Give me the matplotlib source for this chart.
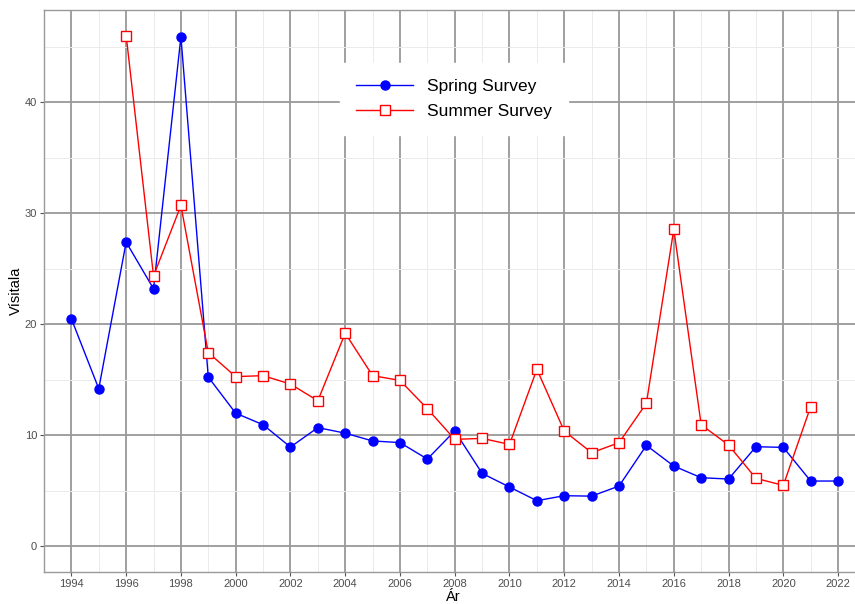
import matplotlib
matplotlib.use('Agg')
import matplotlib.pyplot as plt
from matplotlib.ticker import MultipleLocator

plt.rcParams['font.family'] = ['Liberation Sans', 'DejaVu Sans']

spring_years = list(range(1994, 2023))
spring_index = [20.5, 14.2, 27.4, 23.2, 45.9, 15.25, 12.0, 10.96, 8.95, 10.7,
                10.2, 9.5, 9.35, 7.87, 10.4, 6.58, 5.35, 4.12, 4.57, 4.53,
                5.44, 9.1, 7.24, 6.19, 6.07, 8.98, 8.92, 5.89, 5.89]

summer_years = list(range(1996, 2022))
summer_index = [46.0, 24.35, 30.7, 17.45, 15.29, 15.38, 14.62, 13.12, 19.2, 15.38,
                14.95, 12.4, 9.64, 9.73, 9.19, 15.95, 10.39, 8.44, 9.34, 12.9,
                28.56, 10.96, 9.13, 6.13, 5.5, 12.6]

x_ticks = list(range(1994, 2023, 2))

fig = plt.figure(figsize=(8.55, 6.04), dpi=100)
ax = fig.add_axes([44 / 855, 1 - 572 / 604, 1 - 44 / 855 + 0.01, (572 - 10) / 604])

ax.plot(spring_years, spring_index, color='#0000ff', lw=1.0, marker='o', ms=6.5,
        label='Spring Survey', zorder=3)
ax.plot(summer_years, summer_index, color='#ff0000', lw=1.0, marker='s', ms=6.5,
        mfc='white', mec='#ff0000', mew=1.0, label='Summer Survey', zorder=3)

ax.set_xlim(1993.0, 2022.93)
ax.set_ylim(-2.3, 48.3)
ax.set_xticks(x_ticks)
ax.xaxis.set_minor_locator(MultipleLocator(1))
ax.yaxis.set_major_locator(MultipleLocator(10))
ax.yaxis.set_minor_locator(MultipleLocator(5))

ax.grid(which='major', color='#999999', lw=1.3, zorder=0)
ax.grid(which='minor', color='#ebebeb', lw=0.7, zorder=0)
ax.set_axisbelow(True)

for s in ax.spines.values():
    s.set_color('#999999')
    s.set_linewidth(1.0)

ax.tick_params(which='major', length=3, color='#555555', labelsize=8,
               labelcolor='#4d4d4d', pad=2)
ax.tick_params(which='minor', length=0)

ax.set_xlabel('Ár', fontsize=10.5, labelpad=1)
ax.set_ylabel('Vísitala', fontsize=10.5, labelpad=1)

leg = ax.legend(loc='center', bbox_to_anchor=(454 / 855, 1 - 99 / 604),
                bbox_transform=fig.transFigure, fontsize=12.5, frameon=True,
                fancybox=False, edgecolor='white', framealpha=1.0,
                handlelength=3.3, borderpad=0.9, labelspacing=0.6)

fig.savefig('out.png', dpi=100)
